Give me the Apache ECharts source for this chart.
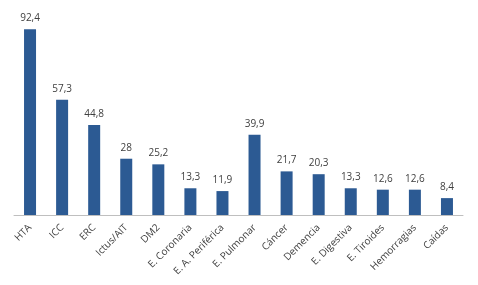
<!DOCTYPE html>
<html><head><meta charset="utf-8">
<script src="https://cdn.jsdelivr.net/npm/echarts@6/dist/echarts.min.js"></script>
<style>html,body{margin:0;padding:0;background:#fff}#c{width:478px;height:285px}</style>
</head><body><div id="c"></div>
<script>
const categories = ["HTA","ICC","ERC","Ictus/AIT","DM2","E. Coronaria","E. A. Periférica","E. Pulmonar","Cáncer","Demencia","E. Digestiva","E. Tiroides","Hemorragias","Caídas"];
const values = [92.4,57.3,44.8,28,25.2,13.3,11.9,39.9,21.7,20.3,13.3,12.6,12.6,8.4];
const chart = echarts.init(document.getElementById('c'));
chart.setOption({
  animation:false,
  grid:{left:14,right:15,top:14,bottom:70},
  xAxis:{type:'category',data:categories,
    axisLine:{lineStyle:{color:'#bfbfbf',width:1}},axisTick:{show:false},
    axisLabel:{rotate:45,interval:0,color:'#404040',fontSize:10,fontFamily:'Open Sans',margin:11}},
  yAxis:{type:'value',min:0,max:100,show:false,splitLine:{show:false}},
  series:[{type:'bar',data:values,barWidth:12,
    itemStyle:{color:'#2c5a93'},
    label:{show:true,position:'top',color:'#404040',fontSize:10,fontFamily:'Open Sans',distance:6,
      formatter:p=>String(p.value).replace('.',',')}}]
});
</script></body></html>
